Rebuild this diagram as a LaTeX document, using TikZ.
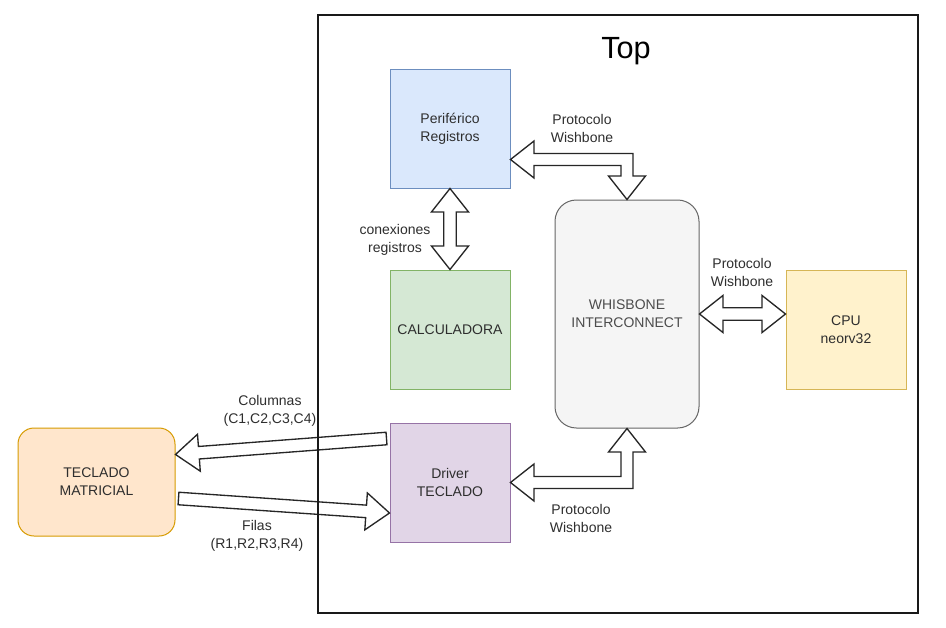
\documentclass[tikz,border=0pt]{standalone}
\usepackage{fontspec}
\setmainfont{Liberation Sans}
\usetikzlibrary{calc}
\definecolor{blueF}{HTML}{DAE8FC}\definecolor{blueD}{HTML}{6C8EBF}
\definecolor{greenF}{HTML}{D5E8D4}\definecolor{greenD}{HTML}{82B366}
\definecolor{purpF}{HTML}{E1D5E7}\definecolor{purpD}{HTML}{9673A6}
\definecolor{grayF}{HTML}{F5F5F5}\definecolor{grayD}{HTML}{666666}
\definecolor{yelF}{HTML}{FFF2CC}\definecolor{yelD}{HTML}{D6B656}
\definecolor{orF}{HTML}{FFE6CC}\definecolor{orD}{HTML}{D79B00}
\definecolor{txt}{HTML}{2E2E2E}
\def\hL{17.6pt}\def\hW{13.9pt}\def\sW{4.7pt}
\newcommand\flexDouble[2]{%
 \draw[flexarrow] (#1)
 -- ($(#1)!\hL!(#2)!\hW!90:(#2)$)
 -- ($(#1)!\hL!(#2)!\sW!90:(#2)$)
 -- ($(#2)!\hL!(#1)!\sW!-90:(#1)$)
 -- ($(#2)!\hL!(#1)!\hW!-90:(#1)$)
 -- (#2)
 -- ($(#2)!\hL!(#1)!\hW!90:(#1)$)
 -- ($(#2)!\hL!(#1)!\sW!90:(#1)$)
 -- ($(#1)!\hL!(#2)!\sW!-90:(#2)$)
 -- ($(#1)!\hL!(#2)!\hW!-90:(#2)$)
 -- cycle;}
\newcommand\flexSingle[2]{%
 \draw[flexarrow] ($(#1)!\sW!90:(#2)$)
 -- ($(#2)!\hL!(#1)!\sW!-90:(#1)$)
 -- ($(#2)!\hL!(#1)!\hW!-90:(#1)$)
 -- (#2)
 -- ($(#2)!\hL!(#1)!\hW!90:(#1)$)
 -- ($(#2)!\hL!(#1)!\sW!90:(#1)$)
 -- ($(#1)!\sW!-90:(#2)$) -- cycle;}
\begin{document}
\begin{tikzpicture}[x=0.75pt,y=-0.75pt,
  box/.style={draw, line width=0.75pt, minimum width=90pt, minimum height=89.25pt, inner sep=0pt, align=center, text=txt, font=\fontsize{10.5}{13.5}\selectfont},
  lbl/.style={inner sep=0pt, align=center, text=txt, font=\fontsize{10.5}{13.5}\selectfont},
  flexarrow/.style={draw=black!85, fill=white, line width=1pt, line join=miter},
  frame/.style={draw=black!90, line width=0.8pt}]
\useasboundingbox (0,0) rectangle (946,628);
\fill[white] (0,0) rectangle (946,628);
% blocks
\node[box, fill=blueF, draw=blueD] (perif) at (450,128.5) {Periférico\\Registros};
\node[box, fill=greenF, draw=greenD] (calcu) at (450,329.5) {CALCULADORA};
\node[box, fill=purpF, draw=purpD] (driver) at (450,482.5) {Driver\\TECLADO};
\node[box, fill=grayF, draw=grayD, rounded corners=16pt, minimum width=108pt, minimum height=171pt, text=black!70] (whis) at (627,314) {WHISBONE\\INTERCONNECT};
\node[box, fill=yelF, draw=yelD] (cpu) at (846,329.5) {CPU\\neorv32};
\node[box, fill=orF, draw=orD, rounded corners=12pt, minimum width=117.75pt, minimum height=81pt] (tec) at (96.5,482) {TECLADO\\MATRICIAL};
% connector end points
\coordinate (pw) at ($(perif.east)+(0,31)$);
\coordinate (wn) at (whis.north);
\coordinate (ws) at (whis.south);
\coordinate (de) at (driver.east);
\coordinate (we) at (whis.east);
\coordinate (cw) at (cpu.west |- whis.east);
\coordinate (colA) at ($(driver.north west)+(-3,16)$);
\coordinate (colB) at ($(tec.east)+(0,-27.5)$);
\coordinate (filA) at ($(tec.east)+(3,16.5)$);
\coordinate (filB) at ($(driver.west)+(0,30.5)$);
% arrows
\draw[flexarrow] (pw) -- ($(pw)+(23.5,-18.5)$) -- ($(pw)+(23.5,-6)$) -- ($(wn|-pw)+(6,-6)$) -- ($(wn)+(6,-23.5)$) -- ($(wn)+(18.5,-23.5)$) -- (wn) -- ($(wn)+(-18.5,-23.5)$) -- ($(wn)+(-6,-23.5)$) -- ($(wn|-pw)+(-6,6)$) -- ($(pw)+(23.5,6)$) -- ($(pw)+(23.5,18.5)$) -- cycle;
\draw[flexarrow] (de) -- ($(de)+(23.5,-18.5)$) -- ($(de)+(23.5,-6)$) -- ($(ws|-de)+(-6,-6)$) -- ($(ws)+(-6,23.5)$) -- ($(ws)+(-18.5,23.5)$) -- (ws) -- ($(ws)+(18.5,23.5)$) -- ($(ws)+(6,23.5)$) -- ($(ws|-de)+(6,6)$) -- ($(de)+(23.5,6)$) -- ($(de)+(23.5,18.5)$) -- cycle;
\flexDouble{perif.south}{calcu.north}
\flexDouble{we}{cw}
\flexSingle{colA}{colB}
\flexSingle{filA}{filB}
% labels
\node[lbl] (l1) at (582,128.5) {Protocolo\\Wishbone};
\node[lbl] (l2) at (395,239.5) {conexiones\\registros};
\node[lbl] (l3) at (742,272.5) {Protocolo\\Wishbone};
\node[lbl] (l4) at (581,518) {Protocolo\\Wishbone};
\node[lbl] (l5) at (270,411) {Columnas\\(C1,C2,C3,C4)};
\node[lbl] (l6) at (257,536) {Filas\\(R1,R2,R3,R4)};
% frame
\node[frame, minimum width=450pt, minimum height=448.5pt, inner sep=0pt] (top) at (618,314) {};
\node[inner sep=0pt, text=black, font=\fontsize{23}{27}\selectfont] (toplbl) at (626,51) {Top};
\end{tikzpicture}
\end{document}
